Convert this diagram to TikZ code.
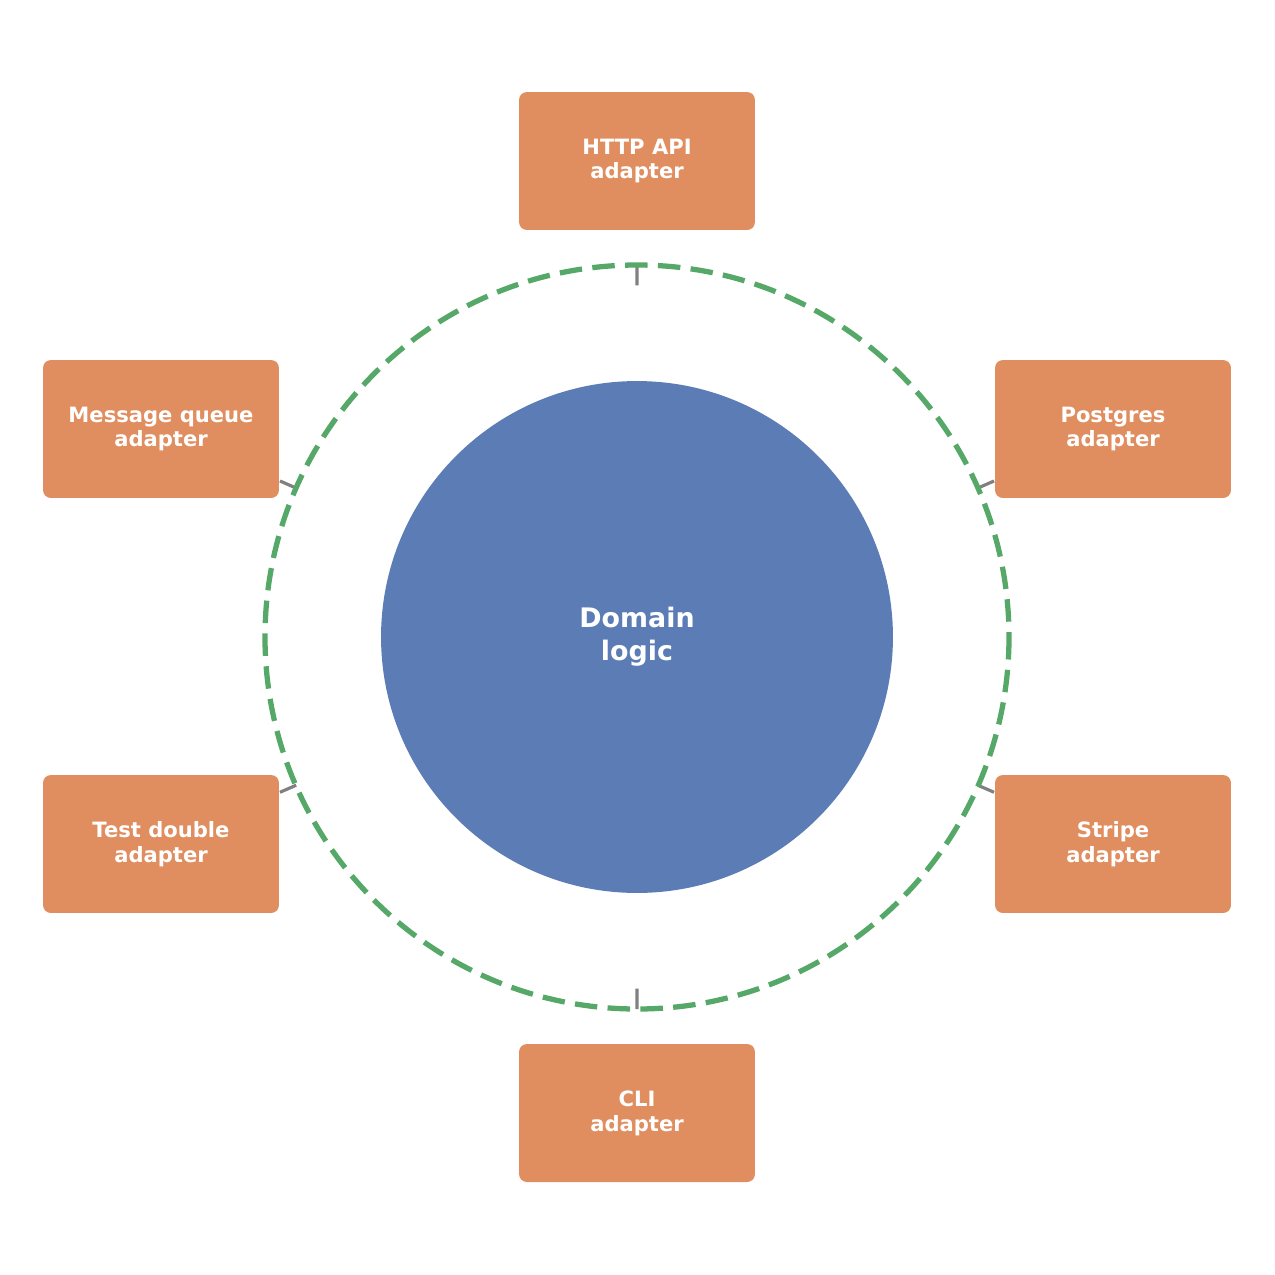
\documentclass[tikz,border=0pt]{standalone}
\usepackage{fontspec}
\setmainfont{DejaVu Sans}
\usetikzlibrary{calc}
\definecolor{adapt}{HTML}{E08E5F}
\definecolor{core}{HTML}{5B7CB5}
\definecolor{ring}{HTML}{56A868}
\definecolor{link}{HTML}{808080}
\tikzset{
  adapter/.style={draw=none, fill=adapt, rounded corners=4.5pt, minimum width=4.72cm, minimum height=2.76cm, inner sep=0pt, align=center, text=white, font=\fontsize{12}{14.2}\selectfont\bfseries},
  corenode/.style={circle, fill=core, minimum size=10.24cm, inner sep=0pt, align=center, text=white, font=\fontsize{15.3}{18.7}\selectfont\bfseries},
  ringline/.style={draw=ring, line width=3pt, dash pattern=on 12.8pt off 5.9pt},
  conn/.style={draw=link, line width=1.8pt}
}
\begin{document}
\begin{tikzpicture}[x=0.02cm, y=-0.02cm]
\useasboundingbox (0,0) rectangle (1275,1275);
\node[corenode] (dom) at (637,637) {Domain\\logic};
\node[adapter] (http) at (637,161) {HTTP API\\adapter};
\node[adapter] (mq) at (161,429) {Message queue\\adapter};
\node[adapter] (pg) at (1113,429) {Postgres\\adapter};
\node[adapter] (td) at (161,844) {Test double\\adapter};
\node[adapter] (st) at (1113,844) {Stripe\\adapter};
\node[adapter] (cli) at (637,1113) {CLI\\adapter};
% points on the ring
\coordinate (rh) at (637,265);
\coordinate (rc) at (637,1009);
\coordinate (rm) at ($(dom.center)!0.716!(mq.center)$);
\coordinate (rp) at ($(dom.center)!0.716!(pg.center)$);
\coordinate (rt) at ($(dom.center)!0.716!(td.center)$);
\coordinate (rs) at ($(dom.center)!0.716!(st.center)$);
\draw[conn] (rh) -- ($(rh)!0.055!(dom.center)$);
\draw[conn] (rc) -- ($(rc)!0.055!(dom.center)$);
\draw[conn] (rm) -- ($(rm)!0.12!(mq.center)$);
\draw[conn] (rp) -- ($(rp)!0.12!(pg.center)$);
\draw[conn] (rt) -- ($(rt)!0.12!(td.center)$);
\draw[conn] (rs) -- ($(rs)!0.12!(st.center)$);
\draw[ringline] (dom.center) circle[radius=372];
\end{tikzpicture}
\end{document}
